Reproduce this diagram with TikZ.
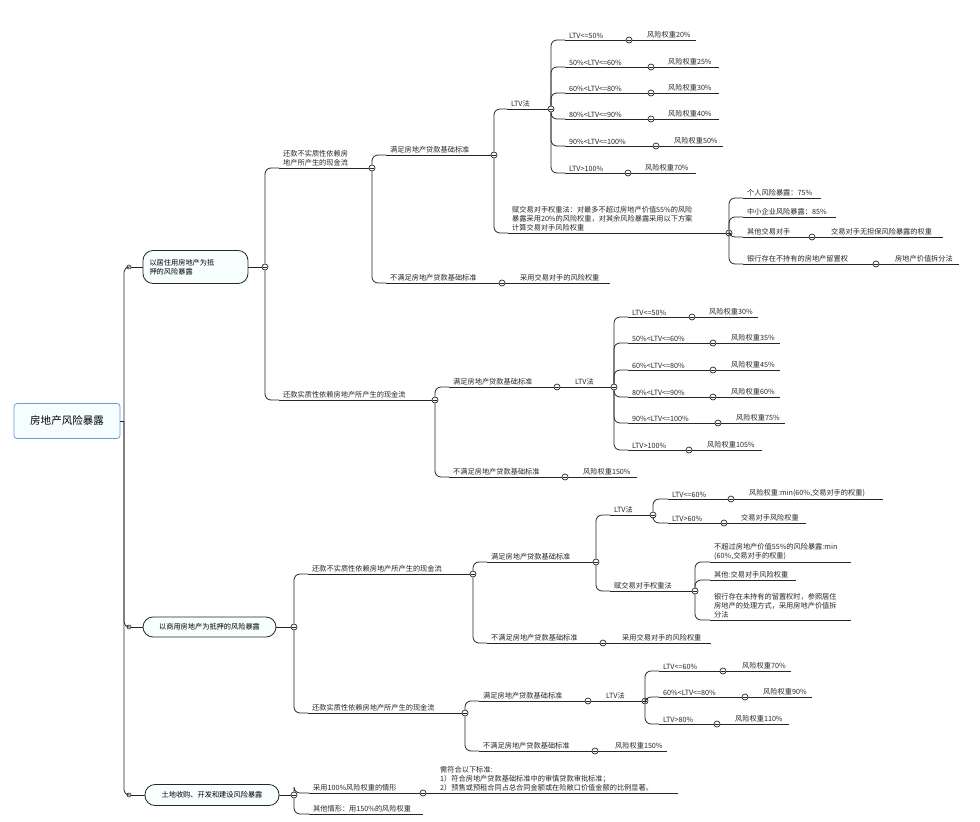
\documentclass[tikz,border=0pt]{standalone}
\usepackage{fontspec}
\setmainfont{Noto Sans CJK SC}
\begin{document}
\begin{tikzpicture}[x=1pt,y=-1pt,
  ln/.style={draw=black!85,line width=0.8pt},
  txt/.style={font=\fontsize{7.2}{9.2}\selectfont,inner sep=1pt,align=left,anchor=south west,text=black!85},
  circ/.style={circle,draw=black!85,fill=white,line width=0.7pt,inner sep=0pt,minimum size=6pt,
    path picture={\draw[line width=0.6pt] ([xshift=-1.8pt]path picture bounding box.center) -- ([xshift=1.8pt]path picture bounding box.center);}},
  dot/.style={circle,draw=black!85,fill=white,line width=0.6pt,inner sep=0pt,minimum size=4pt},
  mainbox/.style={draw=black!85,line width=0.8pt,fill=blue!4!cyan!3,rounded corners=10pt,font=\fontsize{7.2}{9.2}\selectfont,align=left,inner sep=2pt}]
\useasboundingbox (0,0) rectangle (980,822);
\newcommand{\mmI}[5]{% id, xtext, y, xcircle, text
  \node[circ] (#1) at (#4,#3) {};
  \coordinate (#1s) at (#2-3,#3);
  \draw[ln] (#1s) -- (#1.west);
  \node[txt] (#1t) at (#2,#3-0.5) {#5};}
\newcommand{\mmR}[5]{% parent circle, id, xtext, xend, text
  \coordinate (#2e) at (#4,0|-#1);
  \draw[ln] (#1.east) -- (#2e);
  \node[txt] (#2) at (#3,0|-#1) [yshift=0.5pt] {#5};}
\newcommand{\mmL}[5]{% id, xtext, y, xend, text
  \coordinate (#1s) at (#2-3,#3);
  \coordinate (#1e) at (#4,#3);
  \draw[ln] (#1s) -- (#1e);
  \node[txt] (#1t) at (#2,#3-0.5) {#5};}
\newcommand{\mmC}[2]{\draw[ln,rounded corners=6pt] (#1) |- (#2s);}

% root and main branches
\node[draw=cyan!50!blue!60,line width=0.8pt,fill=blue!5!cyan!4,rounded corners=3pt,minimum width=106pt,minimum height=35pt,font=\fontsize{10.5}{12}\selectfont] (root) at (67,421) {房地产风险暴露};
\coordinate (rj) at (124,421);
\node[dot] (dA) at (129,267) {};
\node[dot] (dB) at (129,627) {};
\node[dot] (dC) at (129,795) {};
\draw[ln] (root.east) -- (rj);
\draw[ln,rounded corners=5pt] (rj) |- (dA.west);
\draw[ln,rounded corners=5pt] (rj) |- (dB.west);
\draw[ln,rounded corners=5pt] (rj) |- (dC.west);
\node[mainbox,minimum width=105pt,minimum height=33pt,text width=92pt] (A) at (195.5,267) {以居住用房地产为抵\\押的风险暴露};
\node[mainbox,minimum width=133pt,minimum height=20pt] (B) at (209.5,627) {以商用房地产为抵押的风险暴露};
\node[mainbox,minimum width=134pt,minimum height=21pt] (C) at (212,795) {土地收购、开发和建设风险暴露};
\draw[ln] (dA) -- (A.west);
\draw[ln] (dB) -- (B.west);
\draw[ln] (dC) -- (C.west);
\node[circ] (cA) at (265,267) {};
\node[circ] (cB) at (294,627) {};
\node[circ] (cC) at (294,795) {};
\draw[ln] (A.east) -- (cA);
\draw[ln] (B.east) -- (cB);
\draw[ln] (C.east) -- (cC);

% ---------- A ----------
\mmI{a1}{282}{168}{372}{还款不实质性依赖房\\地产所产生的现金流}\mmC{cA}{a1}
\mmI{a2}{282}{400}{435}{还款实质性依赖房地产所产生的现金流}\mmC{cA}{a2}
\mmI{aa}{389}{155}{494}{满足房地产贷款基础标准}\mmC{a1}{aa}
\mmI{ab}{389}{283}{502}{不满足房地产贷款基础标准}\mmC{a1}{ab}
\mmR{ab}{abr}{519}{610}{采用交易对手的风险权重}
\mmI{al}{510}{109}{551}{LTV法}\mmC{aa}{al}
\mmI{al1}{568}{40}{629}{LTV<=50\%}\mmC{al}{al1}\mmR{al1}{al1r}{646}{696}{风险权重20\%}
\mmI{al2}{568}{67}{651}{50\%<LTV<=60\%}\mmC{al}{al2}\mmR{al2}{al2r}{667}{719}{风险权重25\%}
\mmI{al3}{568}{93}{651}{60\%<LTV<=80\%}\mmC{al}{al3}\mmR{al3}{al3r}{667}{719}{风险权重30\%}
\mmI{al4}{568}{119}{651}{80\%<LTV<=90\%}\mmC{al}{al4}\mmR{al4}{al4r}{667}{719}{风险权重40\%}
\mmI{al5}{568}{146}{656}{90\%<LTV<=100\%}\mmC{al}{al5}\mmR{al5}{al5r}{673}{723}{风险权重50\%}
\mmI{al6}{568}{173}{628}{LTV>100\%}\mmC{al}{al6}\mmR{al6}{al6r}{644}{696}{风险权重70\%}
\mmI{af}{511}{233}{729}{赋交易对手权重法：对最多不超过房地产价值55\%的风险\\暴露采用20\%的风险权重，对其余风险暴露采用以下方案\\计算交易对手风险权重}\mmC{aa}{af}
\mmL{af1}{746}{198}{821}{个人风险暴露：75\%}\mmC{af}{af1}
\mmL{af2}{746}{217}{836}{中小企业风险暴露：85\%}\mmC{af}{af2}
\mmI{af3}{746}{237}{812}{其他交易对手}\mmC{af}{af3}\mmR{af3}{af3r}{830}{943}{交易对手无担保风险暴露的权重}
\mmI{af4}{746}{264}{876}{银行存在不持有的房地产留置权}\mmC{af}{af4}\mmR{af4}{af4r}{894}{959}{房地产价值拆分法}

\mmI{ba}{452}{387}{557}{满足房地产贷款基础标准}\mmC{a2}{ba}
\mmI{bb}{452}{477}{565}{不满足房地产贷款基础标准}\mmC{a2}{bb}
\mmR{bb}{bbr}{582}{637}{风险权重150\%}
\mmI{bl}{574}{387}{614}{LTV法}\draw[ln] (ba.east) -- (bls);
\mmI{bl1}{631}{317}{692}{LTV<=50\%}\mmC{bl}{bl1}\mmR{bl1}{bl1r}{708}{758}{风险权重30\%}
\mmI{bl2}{631}{343}{713}{50\%<LTV<=60\%}\mmC{bl}{bl2}\mmR{bl2}{bl2r}{730}{780}{风险权重35\%}
\mmI{bl3}{631}{370}{713}{60\%<LTV<=80\%}\mmC{bl}{bl3}\mmR{bl3}{bl3r}{730}{780}{风险权重45\%}
\mmI{bl4}{631}{397}{713}{80\%<LTV<=90\%}\mmC{bl}{bl4}\mmR{bl4}{bl4r}{730}{780}{风险权重60\%}
\mmI{bl5}{631}{423}{718}{90\%<LTV<=100\%}\mmC{bl}{bl5}\mmR{bl5}{bl5r}{735}{785}{风险权重75\%}
\mmI{bl6}{631}{450}{689}{LTV>100\%}\mmC{bl}{bl6}\mmR{bl6}{bl6r}{706}{762}{风险权重105\%}

% ---------- B ----------
\mmI{c1}{311}{574}{473}{还款不实质性依赖房地产所产生的现金流}\mmC{cB}{c1}
\mmI{c2}{311}{713}{465}{还款实质性依赖房地产所产生的现金流}\mmC{cB}{c2}
\mmI{c1a}{490}{562}{596}{满足房地产贷款基础标准}\mmC{c1}{c1a}
\mmI{c1b}{490}{643}{603}{不满足房地产贷款基础标准}\mmC{c1}{c1b}
\mmR{c1b}{c1br}{621}{711}{采用交易对手的风险权重}
\mmI{c1l}{613}{515}{653}{LTV法}\mmC{c1a}{c1l}
\mmI{c1l1}{671}{499}{731}{LTV<=60\%}\mmC{c1l}{c1l1}\mmR{c1l1}{c1l1r}{748}{883}{风险权重:min(60\%,交易对手的权重)}
\mmI{c1l2}{671}{523}{724}{LTV>60\%}\mmC{c1l}{c1l2}\mmR{c1l2}{c1l2r}{740}{806}{交易对手风险权重}
\mmI{c1f}{613}{591}{695}{赋交易对手权重法}\mmC{c1a}{c1f}
\mmL{c1f1}{713}{562}{851}{不超过房地产价值55\%的风险暴露:min\\(60\%,交易对手的权重)}\mmC{c1f}{c1f1}
\mmL{c1f2}{713}{580}{796}{其他:交易对手风险权重}\mmC{c1f}{c1f2}
\mmL{c1f3}{713}{620}{851}{银行存在未持有的留置权时，参照居住\\房地产的处理方式，采用房地产价值拆\\分法}\mmC{c1f}{c1f3}

\mmI{c2a}{482}{701}{588}{满足房地产贷款基础标准}\mmC{c2}{c2a}
\mmI{c2b}{482}{751}{595}{不满足房地产贷款基础标准}\mmC{c2}{c2b}
\mmR{c2b}{c2br}{614}{667}{风险权重150\%}
\mmI{c2l}{605}{701}{645}{LTV法}\draw[ln] (c2a.east) -- (c2ls);
\mmI{c2l1}{662}{671}{723}{LTV<=60\%}\mmC{c2l}{c2l1}\mmR{c2l1}{c2l1r}{741}{791}{风险权重70\%}
\mmI{c2l2}{662}{697}{745}{60\%<LTV<=80\%}\mmC{c2l}{c2l2}\mmR{c2l2}{c2l2r}{762}{812}{风险权重90\%}
\mmI{c2l3}{662}{724}{717}{LTV>80\%}\mmC{c2l}{c2l3}\mmR{c2l3}{c2l3r}{734}{789}{风险权重110\%}

% ---------- C ----------
\mmI{d1}{312}{793}{423}{采用100\%风险权重的情形}\mmC{cC}{d1}
\mmR{d1}{d1r}{439}{678}{需符合以下标准:\\1）符合房地产贷款基础标准中的审慎贷款审批标准；\\2）预售或预租合同占总合同金额或在险敞口价值金额的比例显著。}
\mmL{d2}{312}{814}{423}{其他情形：用150\%的风险权重}\mmC{cC}{d2}
\end{tikzpicture}
\end{document}
